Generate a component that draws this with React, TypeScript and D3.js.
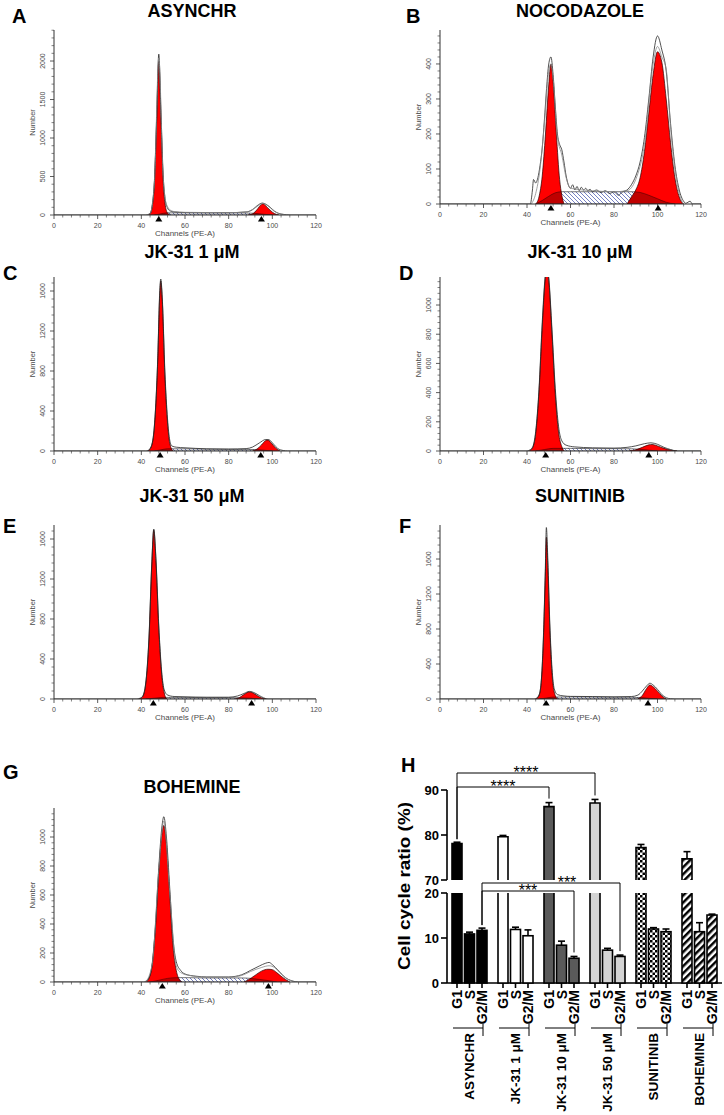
import React from 'react';
import * as d3 from 'd3';

type Pt = [number, number];

// ---------------- Histogram data (channel, count) ----------------
const X_TICKS = [0, 20, 40, 60, 80, 100, 120];

// A: ASYNCHR
const A_G1: Pt[] = [[43,0],[44,15],[45,110],[46,420],[47,1200],[48,2000],[49,1250],[50,450],[51,120],[52,25],[53,0]];
const A_G2: Pt[] = [[89,0],[91,15],[93,70],[95,138],[95.8,145],[97,118],[99,62],[101,18],[103,0]];
const A_S: Pt[] = [[46,0],[48,10],[50,22],[53,28],[60,28],[70,27],[80,27],[88,26],[92,22],[96,10],[100,0]];
const A_RAW: Pt[] = [[0,0],[42,0],[43,5],[44,20],[45,130],[46,450],[47,1260],[48,2090],[49,1330],[50,520],[51,190],[52,90],[53,55],[55,40],[60,32],[70,30],[80,30],[88,40],[91,70],[93,120],[95.5,155],[97,140],[99,100],[101,50],[103,20],[105,8],[108,0],[120,0]];
const A_RAW2: Pt[] = [[42,0],[44,18],[46,430],[48,2040],[50,500],[51,200],[52,110],[53,70],[55,45],[60,35],[70,32],[80,31],[88,38],[92,90],[95.5,150],[98,120],[101,45],[104,12],[108,0]];
const A_TICKS = [0, 500, 1000, 1500, 2000];
const A_MARK = [48, 95];

// B: NOCODAZOLE
const B_G1: Pt[] = [[44,0],[45.5,20],[47,80],[48.5,200],[50,340],[51,400],[52,350],[53.5,200],[55,70],[56,25],[57,0]];
const B_G2: Pt[] = [[86,0],[88,20],[90,40],[92,75],[94,150],[96,260],[98,370],[100,435],[102,405],[104,300],[106,175],[108,75],[110,20],[112,0]];
const B_S: Pt[] = [[44,0],[47,10],[50,22],[53,32],[56,35],[60,35],[70,35],[80,35],[88,35],[92,33],[96,25],[100,15],[104,5],[108,0]];
const B_RAW: Pt[] = [[0,0],[41.5,0],[42.5,40],[43,70],[44,60],[45,75],[46,110],[47,160],[48,240],[49,330],[50,400],[51,420],[52,370],[53,280],[54,200],[55,170],[56,155],[57,120],[58,80],[59,55],[60,45],[61,55],[62,40],[63,50],[64,38],[65,48],[66,40],[67,45],[68,38],[69,42],[70,35],[72,40],[74,33],[76,38],[78,30],[80,35],[82,25],[84,35],[86,40],[88,55],[90,80],[92,120],[94,190],[96,300],[98,420],[100,480],[102,440],[104,380],[106,230],[108,110],[110,40],[112,8],[113,2],[114,5],[115,8],[116,0],[120,0]];
const B_RAW2: Pt[] = [[42,0],[44,30],[46,100],[48,230],[50,380],[51,400],[52,360],[54,190],[56,140],[58,75],[60,45],[70,38],[80,35],[86,38],[90,70],[94,170],[98,400],[100,450],[102,420],[104,385],[106,220],[108,100],[110,30],[112,0]];
const B_TICKS = [0, 100, 200, 300, 400];
const B_MARK = [51, 100.3];

// C: JK-31 1 µM
const C_G1: Pt[] = [[43,0],[44.5,40],[46,250],[47.5,900],[48.4,1550],[48.9,1700],[49.6,1500],[50.8,750],[52,280],[53,80],[54.5,0]];
const C_G2: Pt[] = [[91,0],[93,20],[95,60],[97,105],[98,110],[99.5,80],[101.5,30],[103.5,0]];
const C_S: Pt[] = [[46,0],[49,12],[52,22],[60,22],[70,18],[80,16],[88,16],[92,15],[96,8],[100,0]];
const C_RAW: Pt[] = [[0,0],[42,0],[43,5],[44.5,45],[46,260],[47.5,920],[48.4,1580],[48.9,1720],[49.6,1530],[50.8,790],[52,320],[53,110],[54,50],[56,38],[60,32],[65,26],[70,22],[80,20],[88,24],[91,40],[94,80],[97,115],[98.5,112],[100.5,70],[102.5,25],[105,5],[107,0],[120,0]];
const C_TICKS = [0, 400, 800, 1200, 1600];
const C_MARK = [48.6, 94.7];

// D: JK-31 10 µM
const D_G1: Pt[] = [[41,0],[42.5,20],[44,120],[45.5,400],[47,850],[48.5,1200],[49.2,1260],[50,1170],[51.5,800],[53,390],[54.5,130],[56,30],[57,0]];
const D_G2: Pt[] = [[87,0],[90,8],[93,25],[96,42],[97.5,45],[100,35],[103,18],[106,6],[109,0]];
const D_S: Pt[] = [[44,0],[48,10],[52,18],[60,18],[70,16],[80,16],[88,15],[92,12],[96,6],[100,0]];
const D_RAW: Pt[] = [[0,0],[40,0],[41,5],[42.5,25],[44,135],[45.5,420],[47,880],[48.5,1220],[49.2,1280],[50,1190],[51.5,830],[53,430],[54.5,170],[56,70],[58,40],[62,28],[70,22],[80,20],[86,25],[90,35],[94,50],[97,56],[100,46],[103,25],[106,10],[109,0],[120,0]];
const D_TICKS = [0, 200, 400, 600, 800, 1000];
const D_MARK = [48.6, 96];

// E: JK-31 50 µM
const E_G1: Pt[] = [[39,0],[40.5,20],[42,150],[43.5,600],[44.8,1350],[45.7,1690],[46.7,1380],[48,700],[49.3,250],[50.5,60],[51.5,0]];
const E_G2: Pt[] = [[83,0],[85,15],[87,45],[89.5,70],[91,62],[93,35],[95,12],[97,0]];
const E_S: Pt[] = [[42,0],[46,8],[50,16],[60,16],[70,13],[80,13],[85,12],[90,8],[94,0]];
const E_RAW: Pt[] = [[0,0],[38,0],[39,5],[40.5,25],[42,160],[43.5,620],[44.8,1370],[45.7,1700],[46.7,1400],[48,730],[49.3,280],[50.5,90],[52,40],[55,25],[60,22],[70,18],[80,18],[84,30],[87,55],[89.5,76],[92,60],[94,35],[96,12],[98,0],[120,0]];
const E_TICKS = [0, 400, 800, 1200, 1600];
const E_MARK = [45.5, 90.5];

// F: SUNITINIB
const F_G1: Pt[] = [[44,0],[45.5,40],[46.5,180],[47.5,650],[48.4,1400],[48.9,1850],[49.6,1500],[50.5,800],[51.5,300],[52.5,80],[54,0]];
const F_G2: Pt[] = [[91,0],[93,40],[95,120],[96.5,160],[98,140],[100,90],[102,35],[104,0]];
const F_S: Pt[] = [[46,0],[49,12],[52,22],[60,24],[70,22],[80,20],[88,20],[92,16],[96,8],[100,0]];
const F_RAW: Pt[] = [[0,0],[43,0],[44,5],[45.5,45],[46.5,190],[47.5,680],[48.4,1460],[48.9,1960],[49.6,1580],[50.5,860],[51.5,350],[52.5,120],[54,50],[57,35],[60,30],[70,28],[80,25],[88,28],[91,45],[93,90],[95,150],[96.5,180],[98,160],[100,110],[102,50],[104,15],[106,3],[108,0],[120,0]];
const F_TICKS = [0, 400, 800, 1200, 1600];
const F_MARK = [48.8, 95.6];

// G: BOHEMINE
const G_G1: Pt[] = [[42,0],[43.5,25],[45,120],[46.5,380],[48,760],[49.5,1030],[50.3,1080],[51.5,950],[53,600],[54.5,250],[56,80],[57.5,15],[58.5,0]];
const G_G2: Pt[] = [[87,0],[89,15],[92,45],[95,75],[98,88],[100,85],[102,65],[104,40],[106,18],[108,0]];
const G_S: Pt[] = [[44,0],[48,12],[52,25],[56,30],[60,30],[70,28],[80,28],[86,28],[90,25],[94,18],[98,10],[102,0]];
const G_RAW: Pt[] = [[0,0],[41,0],[42,5],[43.5,30],[45,130],[46.5,400],[48,790],[49.5,1080],[50.3,1140],[51.5,1000],[53,650],[54.5,300],[56,140],[58,80],[60,55],[65,40],[70,35],[80,35],[86,50],[90,80],[94,110],[97,130],[98.5,135],[100,120],[103,75],[106,30],[109,8],[112,0],[120,0]];
const G_RAW2: Pt[] = [[42,0],[45,125],[48,775],[50.3,1110],[53,620],[56,110],[58,65],[62,45],[70,33],[80,32],[86,45],[90,72],[95,100],[98.5,112],[101,100],[104,55],[108,12],[111,0]];
const G_TICKS = [0, 200, 400, 600, 800, 1000];
const G_MARK = [49.6, 98.2];

// ---------------- Bar chart (H) data ----------------
const H_GROUPS = ['ASYNCHR', 'JK-31 1 μM', 'JK-31 10 μM', 'JK-31 50 μM', 'SUNITINIB', 'BOHEMINE'];
const H_PHASES = ['G1', 'S', 'G2/M'];
const H_G1 = [78.1, 79.6, 86.3, 87.1, 77.2, 74.7];
const H_G1_ERR = [0.3, 0.3, 0.9, 0.8, 0.7, 1.6];
const H_S = [10.9, 11.9, 8.4, 7.3, 12.0, 11.4];
const H_S_ERR = [0.4, 0.5, 0.9, 0.4, 0.3, 2.0];
const H_G2M = [11.7, 10.5, 5.5, 5.9, 11.4, 15.1];
const H_G2M_ERR = [0.5, 1.3, 0.4, 0.3, 0.6, 0.2];
const H_TICKS_LOW = [0, 10, 20];
const H_TICKS_HIGH = [70, 80, 90];
const H_SIG: { a: [string, string]; b: [string, string]; label: string }[] = [
  { a: ['ASYNCHR', 'G1'], b: ['JK-31 50 μM', 'G1'], label: '****' },
  { a: ['ASYNCHR', 'G1'], b: ['JK-31 10 μM', 'G1'], label: '****' },
  { a: ['ASYNCHR', 'G2/M'], b: ['JK-31 50 μM', 'G2/M'], label: '***' },
  { a: ['ASYNCHR', 'G2/M'], b: ['JK-31 10 μM', 'G2/M'], label: '***' },
];

// ---------------- Layout ----------------
const FONT = '"Liberation Sans", Arial, Helvetica, sans-serif';
const LEFT = { x0: 54, x1: 316, tx: 192, lx: 3 };
const RIGHT = { x0: 440, x1: 701, tx: 580, lx: 399 };

interface Panel {
  key: string; title: string; x0: number; x1: number; tx: number; ty: number; lx: number; ly: number;
  yTop: number; yZero: number; yMax: number; ticks: number[]; g1: Pt[]; g2: Pt[]; s: Pt[]; raws: Pt[][]; marks: number[];
}

const PANELS: Panel[] = [
  { key: 'A', title: 'ASYNCHR', ...LEFT, lx: 12, ty: 17, ly: 23, yTop: 30, yZero: 215, yMax: 2403, ticks: A_TICKS, g1: A_G1, g2: A_G2, s: A_S, raws: [A_RAW, A_RAW2], marks: A_MARK },
  { key: 'B', title: 'NOCODAZOLE', ...RIGHT, lx: 406, ty: 17, ly: 23, yTop: 30, yZero: 204, yMax: 497, ticks: B_TICKS, g1: B_G1, g2: B_G2, s: B_S, raws: [B_RAW, B_RAW2], marks: B_MARK },
  { key: 'C', title: 'JK-31 1 μM', ...LEFT, ty: 258, ly: 280, yTop: 277, yZero: 451, yMax: 1740, ticks: C_TICKS, g1: C_G1, g2: C_G2, s: C_S, raws: [C_RAW], marks: C_MARK },
  { key: 'D', title: 'JK-31 10 μM', ...RIGHT, ty: 258, ly: 280, yTop: 277, yZero: 451, yMax: 1192, ticks: D_TICKS, g1: D_G1, g2: D_G2, s: D_S, raws: [D_RAW], marks: D_MARK },
  { key: 'E', title: 'JK-31 50 μM', ...LEFT, ty: 502, ly: 533, yTop: 525, yZero: 699, yMax: 1740, ticks: E_TICKS, g1: E_G1, g2: E_G2, s: E_S, raws: [E_RAW], marks: E_MARK },
  { key: 'F', title: 'SUNITINIB', ...RIGHT, ty: 502, ly: 533, yTop: 525, yZero: 699, yMax: 1989, ticks: F_TICKS, g1: F_G1, g2: F_G2, s: F_S, raws: [F_RAW], marks: F_MARK },
  { key: 'G', title: 'BOHEMINE', ...LEFT, ty: 793, ly: 779, yTop: 808, yZero: 982, yMax: 1200, ticks: G_TICKS, g1: G_G1, g2: G_G2, s: G_S, raws: [G_RAW, G_RAW2], marks: G_MARK },
];

function Histogram({ p }: { p: Panel }) {
  const x = d3.scaleLinear().domain([0, 120]).range([p.x0, p.x1]);
  const y = d3.scaleLinear().domain([0, p.yMax]).range([p.yZero, p.yTop]);
  const area = d3.area<Pt>().x(d => x(d[0])).y0(y(0)).y1(d => y(d[1])).curve(d3.curveMonotoneX);
  const line = d3.line<Pt>().x(d => x(d[0])).y(d => y(d[1])).curve(d3.curveMonotoneX);
  const clipId = `plot-${p.key}`;
  const peakId = `peak-${p.key}`;
  const step = p.ticks[1] - p.ticks[0];
  const yMinor = d3.range(0, p.yMax, step / 5).filter(v => Math.abs(v / step - Math.round(v / step)) > 1e-6);
  const xMinor = d3.range(0, 121, 4).filter(v => v % 20 !== 0);
  const ax = '#333';
  const lab = '#4a4a4a';
  const midY = (p.yTop + p.yZero) / 2;
  return (
    <g>
      <defs>
        <clipPath id={clipId}>
          <rect x={p.x0} y={p.yTop} width={p.x1 - p.x0} height={p.yZero - p.yTop} />
        </clipPath>
        <clipPath id={peakId}>
          <path d={area(p.g1) || ''} />
          <path d={area(p.g2) || ''} />
        </clipPath>
      </defs>
      <text x={p.lx} y={p.ly} fontSize={20} fontWeight="bold" fontFamily={FONT}>{p.key}</text>
      <text x={p.tx} y={p.ty} fontSize={18} fontWeight="bold" fontFamily={FONT} textAnchor="middle">{p.title}</text>
      <g clipPath={`url(#${clipId})`}>
        <path d={area(p.s) || ''} fill="url(#hatch)" stroke="#1a1a1a" strokeWidth={0.6} />
        <path d={area(p.g1) || ''} fill="#ff0000" stroke="#2a0000" strokeWidth={0.7} />
        <path d={area(p.g2) || ''} fill="#ff0000" stroke="#2a0000" strokeWidth={0.7} />
        <path d={area(p.s) || ''} fill="#700000" fillOpacity={0.45} stroke="#300" strokeWidth={0.5} clipPath={`url(#${peakId})`} />
        {p.raws.map((r, i) => (
          <path key={i} d={line(r) || ''} fill="none" stroke={i === 0 ? '#262626' : '#8a8a8a'} strokeWidth={0.8} />
        ))}
      </g>
      {/* axes */}
      <line x1={p.x0} x2={p.x0} y1={p.yTop} y2={p.yZero} stroke={ax} strokeWidth={1} />
      <line x1={p.x0} x2={p.x1} y1={p.yZero} y2={p.yZero} stroke={ax} strokeWidth={1} />
      {p.ticks.map(t => (
        <g key={'yt' + t}>
          <line x1={p.x0 - 4} x2={p.x0} y1={y(t)} y2={y(t)} stroke={ax} strokeWidth={0.8} />
          <text transform={`translate(${p.x0 - 9.5},${y(t)}) rotate(-90)`} fontSize={7} fill={lab} fontFamily={FONT} textAnchor="middle">{t}</text>
        </g>
      ))}
      {yMinor.map(t => (
        <line key={'ym' + t} x1={p.x0 - 2.5} x2={p.x0} y1={y(t)} y2={y(t)} stroke={ax} strokeWidth={0.6} />
      ))}
      {X_TICKS.map(t => (
        <g key={'xt' + t}>
          <line x1={x(t)} x2={x(t)} y1={p.yZero} y2={p.yZero + 4} stroke={ax} strokeWidth={0.8} />
          <text x={x(t)} y={p.yZero + 12.5} fontSize={7} fill={lab} fontFamily={FONT} textAnchor="middle">{t}</text>
        </g>
      ))}
      {xMinor.map(t => (
        <line key={'xm' + t} x1={x(t)} x2={x(t)} y1={p.yZero} y2={p.yZero + 2.5} stroke={ax} strokeWidth={0.6} />
      ))}
      <text x={(p.x0 + p.x1) / 2} y={p.yZero + 20.5} fontSize={8} fill={lab} fontFamily={FONT} textAnchor="middle">Channels (PE-A)</text>
      <text transform={`translate(${p.x0 - 19.5},${midY}) rotate(-90)`} fontSize={7.5} fill={lab} fontFamily={FONT} textAnchor="middle">Number</text>
      {p.marks.map((m, i) => (
        <path key={'mk' + i} d={`M${x(m) - 3.5},${p.yZero + 6.5} L${x(m) + 3.5},${p.yZero + 6.5} L${x(m)},${p.yZero + 1} Z`} fill="#000" />
      ))}
    </g>
  );
}

function BarPanel() {
  const xg = d3.scaleBand<string>().domain(H_GROUPS).range([452, 717]).paddingInner(11 / 46).paddingOuter(0);
  const xp = d3.scaleBand<string>().domain(H_PHASES).range([0, xg.bandwidth()]).paddingInner(0.2).paddingOuter(0);
  const yLo = d3.scaleLinear().domain([0, 20]).range([983, 893]);
  const yHi = d3.scaleLinear().domain([70, 90]).range([880, 790]);
  const yOf = (v: number) => (v > 20 ? yHi(v) : yLo(v));
  const fills = ['#000000', '#ffffff', '#5a5a5a', '#d4d4d4', 'url(#checker)', 'url(#stripes)'];
  const series = [
    { phase: 'G1', vals: H_G1, errs: H_G1_ERR },
    { phase: 'S', vals: H_S, errs: H_S_ERR },
    { phase: 'G2/M', vals: H_G2M, errs: H_G2M_ERR },
  ];
  const bw = xp.bandwidth();
  const cx = (g: string, ph: string) => (xg(g) || 0) + (xp(ph) || 0) + bw / 2;
  const valueOf = (g: string, ph: string) => {
    const gi = H_GROUPS.indexOf(g);
    const s = series.find(q => q.phase === ph)!;
    return s.vals[gi] + s.errs[gi];
  };
  const sigLevels = [773, 787, 883, 891];
  const sigDx = [0, 0, 16, 0];
  const axX = 447;
  const sw = 1.6;
  return (
    <g fontFamily={FONT}>
      <text x={401} y={772} fontSize={20} fontWeight="bold">H</text>
      {/* y axis */}
      <line x1={axX} x2={axX} y1={yHi(90)} y2={yHi(70)} stroke="#000" strokeWidth={sw} />
      <line x1={axX} x2={axX} y1={yLo(20)} y2={yLo(0)} stroke="#000" strokeWidth={sw} />
      {H_TICKS_HIGH.map(t => (
        <g key={'h' + t}>
          <line x1={axX - 6} x2={axX} y1={yHi(t)} y2={yHi(t)} stroke="#000" strokeWidth={sw} />
          <text x={axX - 8} y={yHi(t)} dy="0.36em" fontSize={13} fontWeight="bold" textAnchor="end">{t}</text>
        </g>
      ))}
      {H_TICKS_LOW.map(t => (
        <g key={'l' + t}>
          <line x1={axX - 6} x2={axX} y1={yLo(t)} y2={yLo(t)} stroke="#000" strokeWidth={sw} />
          <text x={axX - 8} y={yLo(t)} dy="0.36em" fontSize={13} fontWeight="bold" textAnchor="end">{t}</text>
        </g>
      ))}
      <text transform={`translate(410,886) rotate(-90)`} fontSize={16} fontWeight="bold" textAnchor="middle" textLength={168} lengthAdjust="spacingAndGlyphs">Cell cycle ratio (%)</text>
      {/* x axis */}
      <line x1={axX} x2={722} y1={yLo(0)} y2={yLo(0)} stroke="#000" strokeWidth={sw} />
      {/* bars */}
      {H_GROUPS.map((g, gi) => (
        <g key={g}>
          {series.map(s => {
            const v = s.vals[gi];
            const e = s.errs[gi];
            const x0 = (xg(g) || 0) + (xp(s.phase) || 0);
            const c = x0 + bw / 2;
            const fill = fills[gi];
            const parts: JSX.Element[] = [];
            if (v > 20) {
              parts.push(<rect key="lo" x={x0} y={yLo(20)} width={bw} height={yLo(0) - yLo(20)} fill={fill} />);
              parts.push(<path key="lo-o" d={`M${x0},${yLo(20)}V${yLo(0)}H${x0 + bw}V${yLo(20)}`} fill="none" stroke="#000" strokeWidth={sw} />);
              parts.push(<rect key="hi" x={x0} y={yHi(v)} width={bw} height={yHi(70) - yHi(v)} fill={fill} />);
              parts.push(<path key="hi-o" d={`M${x0},${yHi(70)}V${yHi(v)}H${x0 + bw}V${yHi(70)}`} fill="none" stroke="#000" strokeWidth={sw} />);
            } else {
              parts.push(<rect key="r" x={x0} y={yLo(v)} width={bw} height={yLo(0) - yLo(v)} fill={fill} stroke="#000" strokeWidth={sw} />);
            }
            const yt = yOf(v + e);
            parts.push(<line key="e" x1={c} x2={c} y1={yOf(v)} y2={yt} stroke="#000" strokeWidth={sw} />);
            parts.push(<line key="ec" x1={c - 3.5} x2={c + 3.5} y1={yt} y2={yt} stroke="#000" strokeWidth={sw} />);
            parts.push(<line key="tk" x1={c} x2={c} y1={yLo(0)} y2={yLo(0) + 5} stroke="#000" strokeWidth={sw} />);
            parts.push(
              <text key="pl" transform={`translate(${c},990) rotate(-90)`} dy="0.36em" fontSize={14} fontWeight="bold" textAnchor="end">{s.phase}</text>
            );
            return <g key={s.phase}>{parts}</g>;
          })}
          {(() => {
            const gx = xg(g) || 0;
            const gc = gx + xg.bandwidth() / 2;
            return (
              <g>
                <line x1={gx + 1} x2={gx + 31} y1={1028} y2={1028} stroke="#000" strokeWidth={1} />
                <line x1={gx + 31} x2={gx + 31} y1={1024} y2={1036} stroke="#000" strokeWidth={1} />
                <text transform={`translate(${gc},1033) rotate(-90)`} dy="0.36em" fontSize={13.5} fontWeight="bold" textAnchor="end">{g}</text>
              </g>
            );
          })()}
        </g>
      ))}
      {/* significance brackets */}
      {H_SIG.map((sg, i) => {
        const xa = cx(sg.a[0], sg.a[1]);
        const xb = cx(sg.b[0], sg.b[1]);
        const ly = sigLevels[i];
        const ya = yOf(valueOf(sg.a[0], sg.a[1])) - 3;
        const yb = yOf(valueOf(sg.b[0], sg.b[1])) - 4;
        return (
          <g key={i}>
            <path d={`M${xa},${ya}V${ly}H${xb}V${yb}`} fill="none" stroke="#000" strokeWidth={1} />
            <text x={(xa + xb) / 2 + sigDx[i]} y={ly + 5} fontSize={16} textAnchor="middle">{sg.label}</text>
          </g>
        );
      })}
    </g>
  );
}

export default function App() {
  return (
    <div style={{ position: 'absolute', left: 0, top: 0 }}>
      <svg width={724} height={1115} style={{ display: 'block' }} fontFamily={FONT}>
        <defs>
          <pattern id="hatch" width={4} height={4} patternUnits="userSpaceOnUse">
            <rect width={4} height={4} fill="#ffffff" />
            <path d="M-1,-1 L5,5 M-1,3 L1,5 M3,-1 L5,1" stroke="#3b4aa8" strokeWidth={0.7} />
          </pattern>
          <pattern id="checker" width={5} height={5} patternUnits="userSpaceOnUse">
            <rect width={5} height={5} fill="#ffffff" />
            <rect x={0} y={0} width={2.5} height={2.5} fill="#000" />
            <rect x={2.5} y={2.5} width={2.5} height={2.5} fill="#000" />
          </pattern>
          <pattern id="stripes" width={5} height={5} patternUnits="userSpaceOnUse" patternTransform="rotate(45)">
            <rect width={5} height={5} fill="#ffffff" />
            <rect x={0} y={0} width={2.5} height={5} fill="#000" />
          </pattern>
        </defs>
        <rect x={0} y={0} width={724} height={1115} fill="#ffffff" />
        {PANELS.map(p => <Histogram key={p.key} p={p} />)}
        <BarPanel />
      </svg>
    </div>
  );
}
